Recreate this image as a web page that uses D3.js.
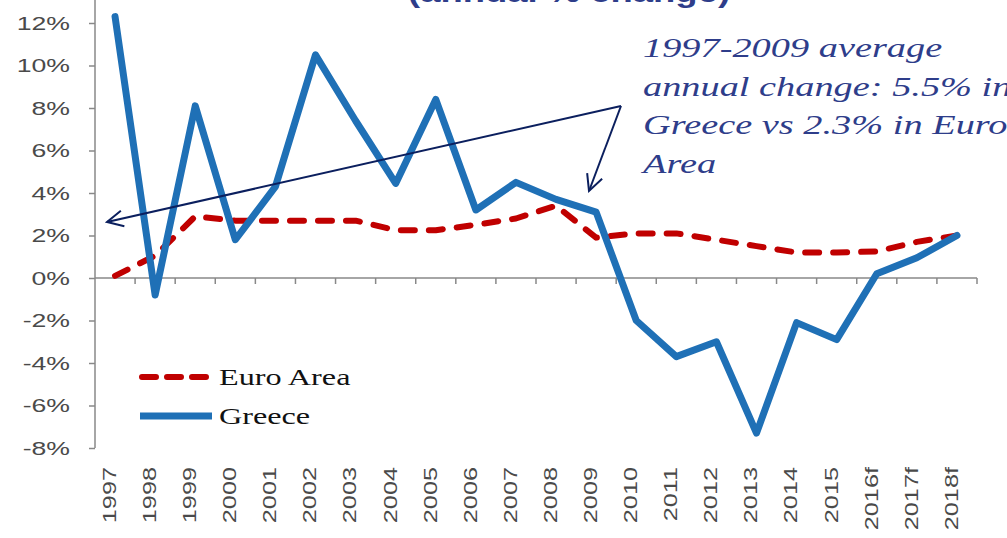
<!DOCTYPE html>
<html>
<head>
<meta charset="utf-8">
<script src="https://cdn.jsdelivr.net/npm/d3@7"></script>
<style>
  body { margin: 0; background: #fff; }
  svg { display: block; }
</style>
</head>
<body>
<div id="chart"></div>
<script>
let width = 1007, height = 538;

// values (% annual change)
let years = ["1997", "1998", "1999", "2000", "2001", "2002", "2003", "2004", "2005", "2006", "2007",
    "2008", "2009", "2010", "2011", "2012", "2013", "2014", "2015", "2016f", "2017f", "2018f"];
let greece = [12.3, -0.8, 8.1, 1.8, 4.3, 10.5, 7.4, 4.45, 8.4, 3.2, 4.5,
    3.7, 3.1, -2.0, -3.7, -3.0, -7.3, -2.1, -2.9, 0.2, 0.95, 2.0];
let euroArea = [0.1, 1.05, 2.9, 2.7, 2.7, 2.7, 2.7, 2.25, 2.25, 2.5, 2.8,
    3.4, 1.9, 2.1, 2.1, 1.8, 1.5, 1.2, 1.2, 1.25, 1.7, 2.0];
let yTicks = [-8, -6, -4, -2, 0, 2, 4, 6, 8, 10, 12];
let noteLines = ["1997-2009 average", "annual change: 5.5% in", "Greece vs 2.3% in Euro", "Area"];

let svg = d3.select("#chart").append("svg")
    .attr("width", width)
    .attr("height", height);

let x = d3.scaleBand().domain(years).range([95, 977]).padding(0);
let y = d3.scaleLinear().domain([-8, 12]).range([448, 23]);
let cx = d => x(d) + x.bandwidth() / 2;

// the picture is stretched sideways, so widen the glyphs the same way
function stretch(sel, k) {
    sel.each(function(){
        let w = this.getComputedTextLength();
        d3.select(this).attr("textLength", w * k).attr("lengthAdjust", "spacingAndGlyphs");
    });
}

// title, mostly cut off at the top
svg.append("text")
    .attr("x", 408).attr("y", 2)
    .attr("font-family", "Liberation Sans").attr("font-weight", "bold")
    .attr("font-size", 27).attr("fill", "#2e3d8a")
    .text("(annual % change)")
    .call(stretch, 1.35);

// y axis
let yAxis = svg.append("g")
    .attr("transform", "translate(95,0)")
    .call(d3.axisLeft(y).tickValues(yTicks).tickFormat(d => d + "%").tickSize(6).tickPadding(19));
yAxis.select(".domain").remove();
yAxis.selectAll("line").attr("stroke", "#888").attr("stroke-width", 1.5);
yAxis.selectAll("text")
    .attr("font-family", "Liberation Sans").attr("font-size", 19).attr("fill", "#4a4a4a")
    .call(stretch, 1.4);
svg.append("line")
    .attr("x1", 95).attr("x2", 95).attr("y1", 0).attr("y2", y(-8))
    .attr("stroke", "#888").attr("stroke-width", 1.5);

// x axis on the zero line, ticks at band edges
svg.append("line")
    .attr("x1", 95).attr("x2", 977).attr("y1", y(0)).attr("y2", y(0))
    .attr("stroke", "#888").attr("stroke-width", 1.5);
svg.selectAll(".xtick")
    .data(years.slice(1).map(d => x(d)).concat([x.range()[1]]))
    .enter().append("line")
    .attr("class", "xtick")
    .attr("x1", d => d).attr("x2", d => d)
    .attr("y1", y(0)).attr("y2", y(0) + 6)
    .attr("stroke", "#888").attr("stroke-width", 1.5);

// year labels at the bottom
let xAxis = svg.append("g")
    .attr("transform", "translate(-6,467)")
    .call(d3.axisBottom(x).tickSize(0).tickPadding(0));
xAxis.select(".domain").remove();
xAxis.selectAll("text")
    .attr("font-family", "Liberation Sans").attr("font-size", 19).attr("fill", "#4a4a4a")
    .attr("transform", "rotate(-90)")
    .attr("text-anchor", "end")
    .attr("x", 0).attr("y", 0).attr("dy", "0.36em")
    .call(stretch, 1.33);

let line = d3.line().x((d, i) => cx(years[i])).y(d => y(d));

svg.append("path")
    .datum(euroArea)
    .attr("d", line)
    .attr("fill", "none")
    .attr("stroke", "#c00000")
    .attr("stroke-width", 6)
    .attr("stroke-linecap", "round")
    .attr("stroke-linejoin", "round")
    .attr("stroke-dasharray", "14,14");

svg.append("path")
    .datum(greece)
    .attr("d", line)
    .attr("fill", "none")
    .attr("stroke", "#1f70b6")
    .attr("stroke-width", 7)
    .attr("stroke-linecap", "round")
    .attr("stroke-linejoin", "round");

// legend
let legend = svg.append("g");
legend.append("line")
    .attr("x1", 142).attr("x2", 212).attr("y1", 377).attr("y2", 377)
    .attr("stroke", "#c00000").attr("stroke-width", 6)
    .attr("stroke-linecap", "round").attr("stroke-dasharray", "14,11");
legend.append("line")
    .attr("x1", 140).attr("x2", 212).attr("y1", 416).attr("y2", 416)
    .attr("stroke", "#1f70b6").attr("stroke-width", 7);
legend.selectAll("text")
    .data(["Euro Area", "Greece"])
    .enter().append("text")
    .attr("x", 219)
    .attr("y", (d, i) => 385 + i * 39)
    .attr("font-family", "Liberation Serif").attr("font-size", 23).attr("fill", "#111")
    .text(d => d)
    .call(stretch, 1.4);

// annotation arrows
let defs = svg.append("defs");
defs.append("marker")
    .attr("id", "head")
    .attr("viewBox", "0 0 20 20")
    .attr("refX", 18).attr("refY", 10)
    .attr("markerWidth", 20).attr("markerHeight", 20)
    .attr("markerUnits", "userSpaceOnUse")
    .attr("orient", "auto")
    .append("path")
    .attr("d", "M2,2 L18,10 L2,18")
    .attr("fill", "none")
    .attr("stroke", "#0b1f5e")
    .attr("stroke-width", 2);

let tip = [621, 106];
[[107, 222], [589, 191]].forEach(p => {
    svg.append("line")
        .attr("x1", tip[0]).attr("y1", tip[1])
        .attr("x2", p[0]).attr("y2", p[1])
        .attr("stroke", "#0b1f5e").attr("stroke-width", 2)
        .attr("marker-end", "url(#head)");
});

svg.append("g").selectAll("text")
    .data(noteLines)
    .enter().append("text")
    .attr("x", 643)
    .attr("y", (d, i) => 57 + i * 38.5)
    .attr("font-family", "Liberation Serif").attr("font-style", "italic")
    .attr("font-size", 27).attr("fill", "#2e3d8a")
    .text(d => d)
    .call(stretch, 1.42);
</script>
</body>
</html>
